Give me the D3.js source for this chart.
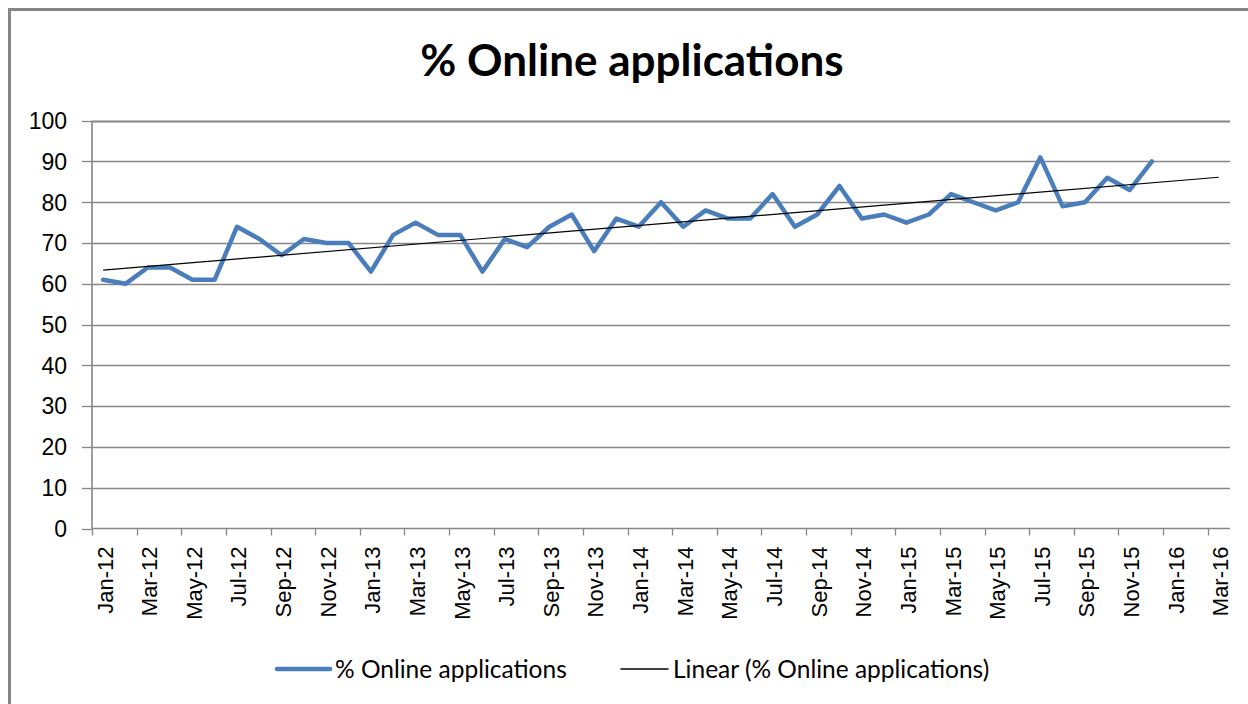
<!DOCTYPE html>
<html>
<head>
<meta charset="utf-8">
<script src="https://cdn.jsdelivr.net/npm/d3@7"></script>
<style>
  body { margin: 0; background: #fff; }
  svg { display: block; }
</style>
</head>
<body>
<div id="chart-area"></div>
<script>
// monthly values, Jan-12 .. Dec-15
let values = [
  61, 60, 64, 64, 61, 61, 74, 71, 67, 71, 70, 70,
  63, 72, 75, 72, 72, 63, 71, 69, 74, 77, 68, 76,
  74, 80, 74, 78, 76, 76, 82, 74, 77, 84, 76, 77,
  75, 77, 82, 80, 78, 80, 91, 79, 80, 86, 83, 90
]

// axis labels every 2 months, Jan-12 .. Mar-16
let tickLabels = [
  "Jan-12", "Mar-12", "May-12", "Jul-12", "Sep-12", "Nov-12",
  "Jan-13", "Mar-13", "May-13", "Jul-13", "Sep-13", "Nov-13",
  "Jan-14", "Mar-14", "May-14", "Jul-14", "Sep-14", "Nov-14",
  "Jan-15", "Mar-15", "May-15", "Jul-15", "Sep-15", "Nov-15",
  "Jan-16", "Mar-16"
]

let yTicks = [0, 10, 20, 30, 40, 50, 60, 70, 80, 90, 100]

let seriesName = "% Online applications"
let trendName = "Linear (% Online applications)"
let forecast = 3 // trend extends 3 months past the data

let svgW = 1248;
let svgH = 704;
let nMonths = tickLabels.length * 2 - 1; // 51 month slots

let margin = { left: 92, right: 18, top: 120.7, bottom: 175.5 }

let x = d3.scaleLinear()
  .domain([0, nMonths])
  .range([margin.left, svgW - margin.right])

let y = d3.scaleLinear()
  .domain([0, 100])
  .range([svgH - margin.bottom, margin.top])

let svg = d3.select("#chart-area")
  .append("svg")
  .attr("width", svgW)
  .attr("height", svgH)

// chart frame (runs off the right and bottom edge)
svg.append("rect")
  .attr("x", 9.5)
  .attr("y", 9.5)
  .attr("width", 1260)
  .attr("height", 720)
  .attr("fill", "none")
  .attr("stroke", "#868686")
  .attr("stroke-width", 3)

svg.append("text")
  .attr("x", 632)
  .attr("y", 76)
  .attr("text-anchor", "middle")
  .attr("font-family", "Lato, 'Open Sans', sans-serif")
  .attr("font-weight", "bold")
  .attr("font-size", 44)
  .attr("fill", "#000")
  .text(seriesName)

// gridlines
svg.append("g")
  .selectAll("line")
  .data(yTicks.slice(1))
  .join("line")
  .attr("x1", x(0))
  .attr("x2", x(nMonths))
  .attr("y1", d => Math.round(y(d)) + 0.5)
  .attr("y2", d => Math.round(y(d)) + 0.5)
  .attr("stroke", "#868686")
  .attr("stroke-width", d => d == 100 ? 2 : 1.3)

// y axis
let gy = svg.append("g")
gy.append("line")
  .attr("x1", x(0)).attr("x2", x(0))
  .attr("y1", y(100)).attr("y2", y(0))
  .attr("stroke", "#868686")
  .attr("stroke-width", 1.6)
gy.selectAll(".tk")
  .data(yTicks)
  .join("line")
  .attr("class", "tk")
  .attr("x1", x(0) - 10).attr("x2", x(0))
  .attr("y1", d => Math.round(y(d)) + 0.5)
  .attr("y2", d => Math.round(y(d)) + 0.5)
  .attr("stroke", "#868686")
  .attr("stroke-width", 1.3)
gy.selectAll("text")
  .data(yTicks)
  .join("text")
  .attr("x", 67)
  .attr("y", d => y(d))
  .attr("dy", "0.36em")
  .attr("text-anchor", "end")
  .attr("font-family", "'Liberation Sans', Arial, sans-serif")
  .attr("font-size", 23)
  .attr("fill", "#000")
  .text(d => d)

// x axis
let gx = svg.append("g")
gx.append("line")
  .attr("x1", x(0)).attr("x2", x(nMonths))
  .attr("y1", y(0)).attr("y2", y(0))
  .attr("stroke", "#868686")
  .attr("stroke-width", 1.6)
gx.selectAll(".tk")
  .data(tickLabels)
  .join("line")
  .attr("class", "tk")
  .attr("x1", (d, i) => Math.round(x(i * 2)) + 0.5)
  .attr("x2", (d, i) => Math.round(x(i * 2)) + 0.5)
  .attr("y1", y(0))
  .attr("y2", y(0) + 7)
  .attr("stroke", "#868686")
  .attr("stroke-width", 1.3)
gx.selectAll("text")
  .data(tickLabels)
  .join("text")
  .attr("transform", (d, i) => `translate(${x(i * 2 + 0.5) + 1.5},${y(0) + 18}) rotate(-90)`)
  .attr("dy", "0.36em")
  .attr("text-anchor", "end")
  .attr("font-family", "'Liberation Sans', Arial, sans-serif")
  .attr("font-size", 22)
  .attr("fill", "#000")
  .text(d => d)

// linear trend (least squares on month index)
let idx = values.map((v, i) => i)
let mx = d3.mean(idx)
let my = d3.mean(values)
let slope = d3.sum(idx, i => (i - mx) * (values[i] - my)) / d3.sum(idx, i => (i - mx) * (i - mx))
let icpt = my - slope * mx
let trendEnd = values.length - 1 + forecast

let line = d3.line()
  .x(d => x(d[0] + 0.5))
  .y(d => y(d[1]))

svg.append("path")
  .datum(values.map((v, i) => [i, v]))
  .attr("d", line)
  .attr("fill", "none")
  .attr("stroke", "#4A7EBB")
  .attr("stroke-width", 4.5)
  .attr("stroke-linejoin", "round")
  .attr("stroke-linecap", "round")

svg.append("path")
  .datum([[0, icpt], [trendEnd, icpt + slope * trendEnd]])
  .attr("d", line)
  .attr("fill", "none")
  .attr("stroke", "#000")
  .attr("stroke-width", 1.2)

// legend
let legend = [
  { name: seriesName, color: "#4A7EBB", w: 4.5, x0: 277, x1: 330 },
  { name: trendName, color: "#000", w: 1.5, x0: 621, x1: 668 }
]
let lg = svg.append("g")
lg.selectAll("line")
  .data(legend)
  .join("line")
  .attr("x1", d => d.x0).attr("x2", d => d.x1)
  .attr("y1", 669).attr("y2", 669)
  .attr("stroke", d => d.color)
  .attr("stroke-width", d => d.w)
  .attr("stroke-linecap", "round")
lg.selectAll("text")
  .data(legend)
  .join("text")
  .attr("x", d => d.x1 + 5)
  .attr("y", 669)
  .attr("dy", "0.36em")
  .attr("font-family", "Lato, 'Open Sans', sans-serif")
  .attr("font-size", 24.5)
  .attr("fill", "#000")
  .text(d => d.name)
</script>
</body>
</html>
